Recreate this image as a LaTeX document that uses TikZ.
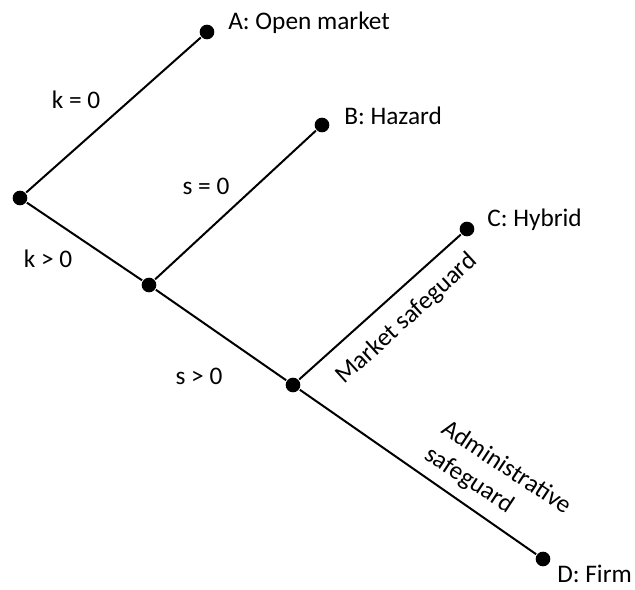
\documentclass[tikz,border=0pt]{standalone}
\usepackage{fontspec}
\setmainfont{Carlito}
\usetikzlibrary{positioning}

\begin{document}
\begin{tikzpicture}[x=0.0264cm,y=-0.0264cm,line width=1.5pt]
  \tikzstyle{dot}=[circle,fill=black,inner sep=0pt,minimum size=11pt]
  \tikzstyle{tag}=[font=\fontsize{19}{23}\selectfont,inner sep=1pt]
  \useasboundingbox (0,0) rectangle (635,590);
  % decision points
  \node[dot] (root) at (20,198) {};
  \node[dot] (fork) at (149,285) {};
  \node[dot] (safe) at (293,385) {};
  % outcomes
  \node[dot] (A) at (207,32) {};
  \node[dot] (B) at (322,125) {};
  \node[dot] (C) at (467,229) {};
  \node[dot] (D) at (543,559) {};
  \node[tag,anchor=base west] (tA) at (226,30) {A: Open market};
  \node[tag,anchor=base west] (tB) at (342,125) {B: Hazard};
  \node[tag,anchor=base west] (tC) at (485,227) {C: Hybrid};
  \node[tag,anchor=base west] (tD) at (555,583) {D: Firm};
  \draw (root)--(A);
  \draw (root)--(fork);
  \draw (fork)--(B);
  \draw (fork)--(safe);
  \draw (safe)--(C);
  \draw (safe)--(D);
  % branch labels
  \node[tag,anchor=base] (k0) at (76,109) {k = 0};
  \node[tag,anchor=base] (s0) at (206,195) {s = 0};
  \node[tag,anchor=base] (kp) at (48,268) {k > 0};
  \node[tag,anchor=base] (sp) at (199,385) {s > 0};
  \node[tag,rotate=42.5] (ms) at (407,319) {Market safeguard};
  \node[tag,rotate=-33.5,align=left] (as) at (498,481) {Administrative\\safeguard};
\end{tikzpicture}
\end{document}
